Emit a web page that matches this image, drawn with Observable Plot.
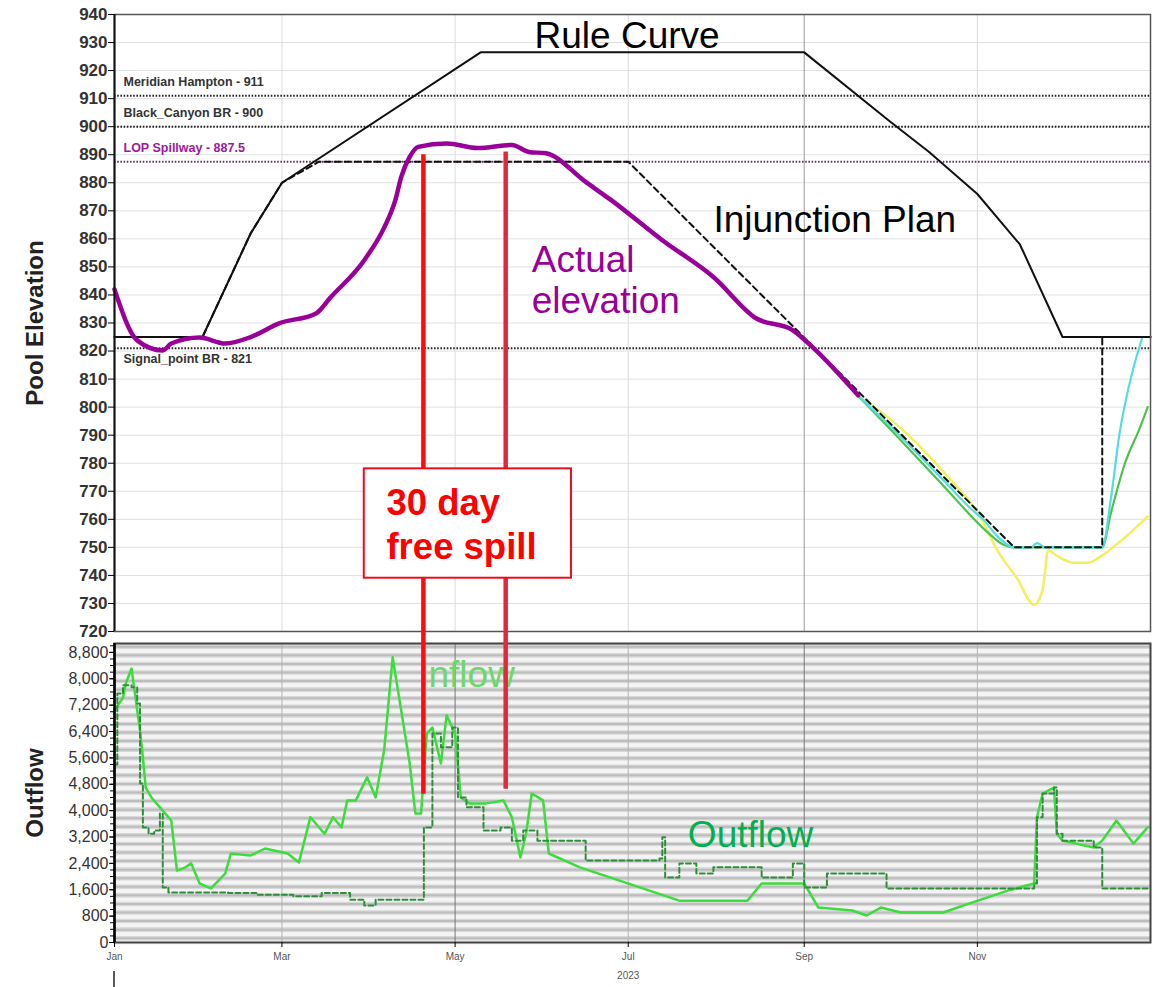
<!DOCTYPE html>
<html><head><meta charset="utf-8">
<script src="https://cdn.jsdelivr.net/npm/d3@7"></script>
<script src="https://cdn.jsdelivr.net/npm/@observablehq/plot@0.6"></script>
<style>
body{margin:0;background:#fff;font-family:"Liberation Sans",Arial,sans-serif;}
#wrap{position:relative;width:1158px;height:987px;overflow:hidden;}
#wrap svg{position:absolute;left:0;overflow:visible;}
</style></head><body><div id="wrap"></div>
<script>
// ---------- data ----------
const xStart = "2023-01-01", xEnd = "2024-01-01";
const monthTicks = ["2023-01-01","2023-03-01","2023-05-01","2023-07-01","2023-09-01","2023-11-01"];
const elevTicks = d3.range(720, 941, 10);
const flowTicks = d3.range(0, 8801, 800);

const ruleDates  = ["2023-01-01","2023-02-01","2023-02-18","2023-03-01","2023-05-10","2023-09-01","2023-10-01","2023-10-15","2023-11-01","2023-11-16","2023-12-01","2024-01-01"];
const ruleValues = [825,825,862,880,926.5,926.5,902,891,876,858,825,825];

const injDates  = ["2023-01-01","2023-02-01","2023-02-18","2023-03-01","2023-03-14","2023-07-01","2023-11-14","2023-12-15","2023-12-15","2024-01-01"];
const injValues = [825,825,862,880,887.5,887.5,750,750,825,825];

const actualDates  = ["2023-01-01","2023-01-09","2023-01-18","2023-01-21","2023-01-31","2023-02-09","2023-02-18","2023-02-28","2023-03-13","2023-03-18","2023-03-30","2023-04-06","2023-04-10","2023-04-12","2023-04-15","2023-04-18","2023-04-28","2023-05-09","2023-05-21","2023-05-27","2023-06-02","2023-06-16","2023-06-25","2023-07-13","2023-07-31","2023-08-15","2023-08-28","2023-09-04","2023-09-20"];
const actualValues = [842,823.8,820.2,822.7,824.8,822.7,825,829.9,833.4,839,852.4,864,874,882,889.2,892.8,894,892.4,893.5,891,890.5,880.3,873.8,859.5,846.4,831.7,827.4,821.3,804.2];

const yellowDates  = ["2023-09-20","2023-10-01","2023-10-20","2023-11-03","2023-11-08","2023-11-15","2023-11-21","2023-11-24","2023-11-26","2023-11-29","2023-12-05","2023-12-10","2023-12-14","2023-12-20","2023-12-31"];
const yellowValues = [804,796,777,759,749,739,729.5,735,749,747,744.5,744.5,746.5,751,761];

const greenDates  = ["2023-09-20","2023-10-01","2023-10-20","2023-11-05","2023-11-10","2023-11-14","2023-12-15","2023-12-18","2023-12-23","2023-12-28","2023-12-31"];
const greenValues = [804,792.5,772,755,751,750,750,762,780,792,800];

const cyanDates  = ["2023-09-20","2023-10-01","2023-10-20","2023-10-30","2023-11-03","2023-11-08","2023-11-14","2023-11-20","2023-11-22","2023-11-25","2023-12-15","2023-12-18","2023-12-21","2023-12-26","2023-12-29"];
const cyanValues = [804,793.5,774,763.5,760,754,750,750,751.5,750,750,767,790,814,824.5];

const refValues = [911, 900, 887.5, 821];
const refLabels = ["Meridian Hampton - 911","Black_Canyon BR - 900","LOP Spillway - 887.5","Signal_point BR - 821"];

const inflowDates = ["2023-01-01","2023-01-04","2023-01-05","2023-01-07","2023-01-10","2023-01-11","2023-01-12","2023-01-14","2023-01-18","2023-01-21","2023-01-23","2023-01-26","2023-01-28","2023-01-31","2023-02-04","2023-02-09","2023-02-11","2023-02-18","2023-02-23","2023-03-03","2023-03-07","2023-03-11","2023-03-16","2023-03-19","2023-03-22","2023-03-24","2023-03-27","2023-03-31","2023-04-03","2023-04-06","2023-04-09","2023-04-12","2023-04-15","2023-04-17","2023-04-19","2023-04-21","2023-04-23","2023-04-26","2023-04-28","2023-05-01","2023-05-03","2023-05-06","2023-05-12","2023-05-18","2023-05-21","2023-05-24","2023-05-26","2023-05-28","2023-06-01","2023-06-03","2023-06-14","2023-07-19","2023-08-12","2023-08-17","2023-09-01","2023-09-06","2023-09-18","2023-09-23","2023-09-28","2023-10-05","2023-10-20","2023-10-29","2023-11-12","2023-11-21","2023-11-22","2023-11-24","2023-11-28","2023-11-29","2023-12-01","2023-12-12","2023-12-15","2023-12-20","2023-12-26","2023-12-31"];
const inflowValues = [7040,7430,7860,8310,6430,5610,4700,4400,4000,3700,2180,2280,2400,1790,1640,2090,2700,2640,2850,2700,2430,3800,3300,3800,3490,4310,4310,5010,4400,5830,8650,7040,5430,3910,3910,6340,6520,5430,6890,6340,4400,4220,4220,4310,3800,2580,3300,4520,4310,2700,2280,1270,1270,1790,1790,1060,970,820,1060,910,910,1180,1580,1790,3800,4520,4700,3300,3090,2880,3090,3700,3000,3490];

const outflowDates = ["2023-01-01","2023-01-02","2023-01-04","2023-01-07","2023-01-09","2023-01-10","2023-01-11","2023-01-13","2023-01-15","2023-01-17","2023-01-18","2023-01-20","2023-02-10","2023-02-20","2023-03-05","2023-03-15","2023-03-25","2023-03-30","2023-04-03","2023-04-20","2023-04-23","2023-04-26","2023-04-30","2023-05-02","2023-05-05","2023-05-11","2023-05-17","2023-05-21","2023-05-25","2023-05-30","2023-06-16","2023-07-12","2023-07-13","2023-07-14","2023-07-19","2023-07-25","2023-07-31","2023-08-17","2023-08-28","2023-09-01","2023-09-09","2023-09-30","2023-11-21","2023-11-22","2023-11-24","2023-11-28","2023-11-29","2023-12-01","2023-12-12","2023-12-15","2024-01-01"];
const outflowValues = [5400,7550,7800,7740,7250,4820,3490,3300,3400,3910,1670,1520,1500,1450,1400,1500,1300,1120,1300,3490,6340,5920,6520,4400,4100,3400,3490,3090,3400,3090,2490,2550,3190,1970,2400,2090,2280,1970,2400,1670,2090,1640,1790,3800,4520,4700,3300,3090,2880,1640,1640];

const spillDates = ["2023-04-20","2023-05-19"];
const spillTopValues = [890, 891];
const spillFlowValues = [4500, 4650];
const boxDates = ["2023-03-30","2023-06-11"];
const boxValues = [778, 739];

// ---------- helpers ----------
const D = s => new Date(s);
const pts = (ds, vs) => ds.map((d, i) => ({date: D(d), v: vs[i]}));
const FONT = "'Liberation Sans', Arial, sans-serif";
const xDomain = [D(xStart), D(xEnd)];
const W = 1158;

const rule = pts(ruleDates, ruleValues);
const inj = pts(injDates, injValues);
const actual = pts(actualDates, actualValues);
const yellow = pts(yellowDates, yellowValues);
const green = pts(greenDates, greenValues);
const cyan = pts(cyanDates, cyanValues);
const refs = refValues.map((v, i) => ({v, label: refLabels[i]}));
const inflow = pts(inflowDates, inflowValues);
const outflow = pts(outflowDates, outflowValues);
const months = monthTicks.map(D);

// ---------- top panel ----------
const topPlot = Plot.plot({
  width: W, height: 643,
  marginLeft: 114, marginRight: 8, marginTop: 14, marginBottom: 12,
  style: {fontFamily: FONT, background: "transparent", overflow: "visible"},
  x: {domain: xDomain, axis: null},
  y: {domain: [720, 940], axis: null},
  marks: [
    Plot.ruleY(elevTicks, {stroke: "#e0e0e0", strokeWidth: 1}),
    Plot.ruleX(months.slice(1), {stroke: d => d.getUTCMonth() === 8 ? "#9a9a9a" : "#dcdcdc", strokeWidth: 1}),
    Plot.ruleY(refs, {y: "v", stroke: d => d.v === 887.5 ? "#5a3a5a" : "#222", strokeWidth: 2, strokeDasharray: "1.6,1.6"}),
    Plot.text(refs.slice(0, 3), {x: xDomain[0], y: "v", text: "label", dx: 9, dy: -14, textAnchor: "start", fontSize: 12.5, fontWeight: "bold", fill: d => d.v === 887.5 ? "#9a1a9a" : "#333"}),
    Plot.text(refs.slice(3), {x: xDomain[0], y: "v", text: "label", dx: 9, dy: 11, textAnchor: "start", fontSize: 12.5, fontWeight: "bold", fill: "#333"}),
    Plot.line(yellow, {x: "date", y: "v", stroke: "#f0f060", strokeWidth: 2.5, curve: "monotone-x"}),
    Plot.line(green, {x: "date", y: "v", stroke: "#4cc24c", strokeWidth: 2.2, curve: "monotone-x"}),
    Plot.line(cyan, {x: "date", y: "v", stroke: "#55dddd", strokeWidth: 2.2, curve: "monotone-x"}),
    Plot.line(rule, {x: "date", y: "v", stroke: "#111", strokeWidth: 2}),
    Plot.line(inj, {x: "date", y: "v", stroke: "#111", strokeWidth: 2, strokeDasharray: "6,4"}),
    Plot.line(actual, {x: "date", y: "v", stroke: "#990099", strokeWidth: 4.5, curve: "monotone-x"}),
    Plot.frame({stroke: "#555", strokeWidth: 1.5}),
    Plot.ruleX([xDomain[0]], {stroke: "#111", strokeWidth: 2}),
    Plot.axisY(elevTicks, {tickSize: 6, tickPadding: 1, fontSize: 17, fontWeight: "bold", fill: "#333", label: null}),
    Plot.text(["Pool Elevation"], {text: d => d, frameAnchor: "left", textAnchor: "middle", dx: -79, rotate: -90, fontSize: 24, fontWeight: "bold", fill: "#222"}),
    Plot.text([{date: D("2023-05-29"), v: 928.1, t: "Rule Curve"}], {x: "date", y: "v", text: "t", textAnchor: "start", lineAnchor: "bottom", fontSize: 37, fill: "#000"}),
    Plot.text([{date: D("2023-07-31"), v: 862.4, t: "Injunction Plan"}], {x: "date", y: "v", text: "t", textAnchor: "start", lineAnchor: "bottom", fontSize: 37, fill: "#000"}),
    Plot.text([{date: D("2023-05-28"), v: 833.5, t: "Actual\nelevation"}], {x: "date", y: "v", text: "t", textAnchor: "start", lineAnchor: "bottom", lineHeight: 1.1, fontSize: 37, fill: "#990099"})
  ]
});
topPlot.style.top = "0px";

// ---------- bottom panel ----------
const botPlot = Plot.plot({
  width: W, height: 344,
  marginLeft: 114, marginRight: 8, marginTop: 0, marginBottom: 45,
  style: {fontFamily: FONT, background: "transparent", overflow: "visible"},
  x: {domain: xDomain, axis: null},
  y: {domain: [0, 9070], axis: null},
  marks: [
    Plot.frame({fill: "#d9d9d9", stroke: null}),
    Plot.ruleY(d3.range(0, 9070, 260), {stroke: "#f4f4f4", strokeWidth: 4}),
    Plot.ruleY(d3.range(130, 9070, 260), {stroke: "#bdbdbd", strokeWidth: 2}),
    Plot.ruleX(months.slice(1), {stroke: d => [4, 8].includes(d.getUTCMonth()) ? "#777" : "#b4b4b4", strokeWidth: 1}),
    Plot.line(inflow, {x: "date", y: "v", stroke: "#3ddc3d", strokeWidth: 2.5}),
    Plot.line(outflow, {x: "date", y: "v", curve: "step-after", stroke: "#2e8f3a", strokeWidth: 2, strokeDasharray: "5,3"}),
    Plot.frame({stroke: "#444", strokeWidth: 2}),
    Plot.ruleX([xDomain[0]], {stroke: "#000", strokeWidth: 2.5}),
    Plot.axisY(d3.range(0, 9070, 200), {tickSize: 4, tickFormat: () => "", stroke: "#000", label: null}),
    Plot.axisY(flowTicks, {tickSize: 5, tickPadding: 1, tickFormat: d3.format(","), fontSize: 16, fill: "#333", label: null}),
    Plot.axisX(months, {tickSize: 5, tickPadding: 5, tickFormat: d3.utcFormat("%b"), fontSize: 10, fill: "#555", label: null}),
    Plot.text(["2023"], {x: () => months[3], text: d => d, frameAnchor: "bottom", dy: 36, fontSize: 10, fill: "#555"}),
    Plot.text(["Outflow"], {text: d => d, frameAnchor: "left", textAnchor: "middle", dx: -79, rotate: -90, fontSize: 24, fontWeight: "bold", fill: "#222"}),
    Plot.text([{date: D("2023-04-18"), v: 7737, t: "Inflow"}], {x: "date", y: "v", text: "t", textAnchor: "start", lineAnchor: "bottom", fontSize: 37, fill: "#6ad86a"}),
    Plot.text([{date: D("2023-07-22"), v: 2882, t: "Outflow"}], {x: "date", y: "v", text: "t", textAnchor: "start", lineAnchor: "bottom", fontSize: 37, fill: "#00b050"})
  ]
});
botPlot.style.top = "643px";

const wrap = document.getElementById("wrap");
wrap.appendChild(topPlot);
wrap.appendChild(botPlot);

// ---------- overlay annotations (through the plots' scales) ----------
const xs = topPlot.scale("x"), yt = topPlot.scale("y"), yb = botPlot.scale("y");
const BOT = 643;
const ov = d3.select(wrap).append("svg").attr("width", W).attr("height", 987).style("top", "0px")
  .style("font-family", FONT);
const spillColors = ["#ff0d0d", "#e2283a"];
spillDates.forEach((d, i) => {
  const x = xs.apply(D(d));
  ov.append("line").attr("x1", x).attr("x2", x)
    .attr("y1", yt.apply(spillTopValues[i])).attr("y2", BOT + yb.apply(spillFlowValues[i]))
    .attr("stroke", spillColors[i]).attr("stroke-width", 4.5);
});
const bx0 = xs.apply(D(boxDates[0])), bx1 = xs.apply(D(boxDates[1]));
const by0 = yt.apply(boxValues[0]), by1 = yt.apply(boxValues[1]);
ov.append("rect").attr("x", bx0).attr("y", by0).attr("width", bx1 - bx0).attr("height", by1 - by0)
  .attr("fill", "#fff").attr("stroke", "#e8101c").attr("stroke-width", 2);
const tx = xs.apply(D("2023-04-07"));
ov.append("text").attr("x", tx).attr("y", yt.apply(761.2)).text("30 day")
  .attr("font-size", 36.5).attr("font-weight", "bold").attr("fill", "#ff0000");
ov.append("text").attr("x", tx).attr("y", yt.apply(745.8)).text("free spill")
  .attr("font-size", 36.5).attr("font-weight", "bold").attr("fill", "#ff0000");
// small year marker under the first tick
const jx = xs.apply(xDomain[0]);
ov.append("line").attr("x1", jx).attr("x2", jx).attr("y1", 971).attr("y2", 987).attr("stroke", "#222").attr("stroke-width", 1.5);
</script></body></html>
